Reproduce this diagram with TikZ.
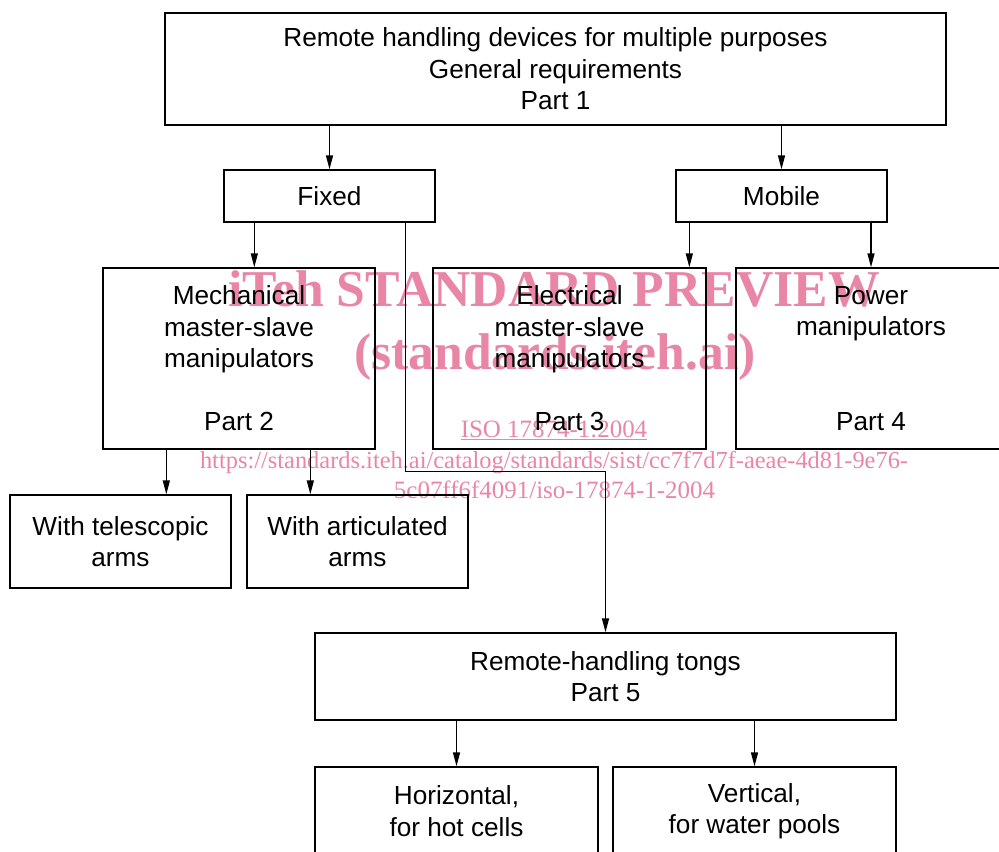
\documentclass[tikz,border=0pt]{standalone}
\usepackage{fontspec}
\setmainfont{Liberation Sans}
\newfontfamily\wmfont{Liberation Serif}
\usetikzlibrary{arrows.meta,calc}
\definecolor{wmpink}{RGB}{233,134,166}
\begin{document}
\begin{tikzpicture}[x=0.02cm,y=-0.02cm,
  box/.style={draw,line width=0.8pt,inner sep=0pt,align=center,
    font=\fontsize{14.9}{17.9}\selectfont},
  pfeil/.style={line width=0.8pt,-{Triangle[length=0.28cm,width=0.14cm]}},
  wm/.style={text=wmpink,inner sep=0pt,anchor=base}]
\useasboundingbox (0,0) rectangle (999,851);
% Wasserzeichen
\node[wm,font=\wmfont\bfseries\fontsize{29.4}{34}\selectfont] (wa) at (554,306) {iTeh STANDARD PREVIEW};
\node[wm,font=\wmfont\bfseries\fontsize{29.4}{34}\selectfont] (wb) at (555,369) {(standards.iteh.ai)};
\node[wm,font=\wmfont\fontsize{14.2}{17}\selectfont] (wc) at (554,437) {\underline{ISO 17874-1:2004}};
\node[wm,font=\wmfont\fontsize{13.9}{17}\selectfont] (wd) at (554,468) {https://standards.iteh.ai/catalog/standards/sist/cc7f7d7f-aeae-4d81-9e76-};
\node[wm,font=\wmfont\fontsize{14.2}{17}\selectfont] (we) at (554.5,498) {5c07ff6f4091/iso-17874-1-2004};
% Kaesten
\node[box,minimum width=15.62cm,minimum height=2.24cm] (top) at (555.5,69) {Remote handling devices for multiple purposes\\General requirements\\Part 1};
\node[box,minimum width=4.22cm,minimum height=1.04cm] (fixed) at (329.5,196) {Fixed};
\node[box,minimum width=4.22cm,minimum height=1.04cm] (mobile) at (781.5,196) {Mobile};
\node[box,minimum width=5.44cm,minimum height=3.62cm] (mech) at (239,358.5) {Mechanical\\master-slave\\manipulators\\[\baselineskip]Part 2};
\node[box,minimum width=5.46cm,minimum height=3.62cm] (elec) at (569.5,358.5) {Electrical\\master-slave\\manipulators\\[\baselineskip]Part 3};
\node[box,minimum width=5.40cm,minimum height=3.62cm] (power) at (871,358.5) {Power\\manipulators\\[2\baselineskip]Part 4};
\node[box,minimum width=4.42cm,minimum height=1.86cm] (tele) at (120.5,541.5) {With telescopic\\arms};
\node[box,minimum width=4.42cm,minimum height=1.86cm] (arti) at (357.5,541.5) {With articulated\\arms};
\node[box,minimum width=11.62cm,minimum height=1.74cm] (tongs) at (605.5,676.5) {Remote-handling tongs\\Part 5};
\node[box,minimum width=5.66cm,minimum height=1.76cm] (horiz) at (456.5,811) {Horizontal,\\for hot cells};
\node[box,minimum width=5.66cm,minimum height=1.76cm] (vert) at (754.5,811) {Vertical,\\for water pools};
% Pfeile
\draw[pfeil] (top.south -| fixed.north) -- (fixed.north);
\draw[pfeil] (top.south -| mobile.north) -- (mobile.north);
\draw[pfeil] ($(fixed.south west)+(31,0)$) coordinate (f1) -- (f1 |- mech.north);
\draw[pfeil] ($(fixed.south east)+(-30,0)$) |- ($(tongs.north)+(0,-161)$) -- (tongs.north);
\draw[pfeil] ($(mobile.south west)+(14,0)$) coordinate (m1) -- (m1 |- elec.north);
\draw[pfeil] (mobile.south -| power.north) -- (power.north);
\draw[pfeil] ($(mech.south west)+(64,0)$) coordinate (k1) -- (k1 |- tele.north);
\draw[pfeil] ($(mech.south west)+(208,0)$) coordinate (k2) -- (k2 |- arti.north);
\draw[pfeil] (tongs.south -| horiz.north) -- (horiz.north);
\draw[pfeil] (tongs.south -| vert.north) -- (vert.north);
\end{tikzpicture}
\end{document}
